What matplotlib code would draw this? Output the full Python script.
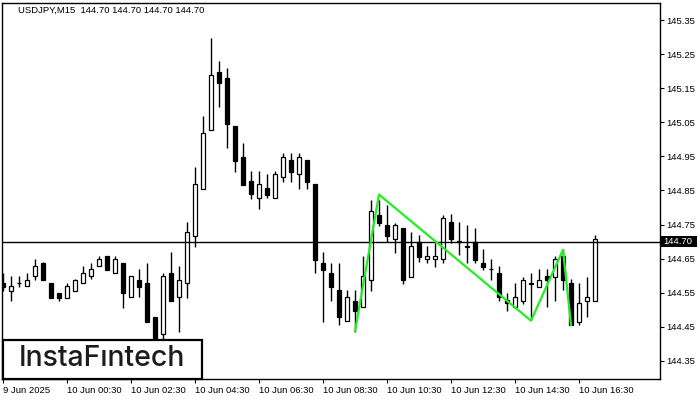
import matplotlib
matplotlib.use("Agg")
import matplotlib.pyplot as plt
import matplotlib.transforms as mtransforms
from matplotlib.patches import Rectangle

# USDJPY M15 candles, 9 Jun 22:30 -> 10 Jun 17:00
opens = [144.580, 144.556, 144.578, 144.569, 144.598, 144.637, 144.579, 144.549, 144.536, 144.556,
         144.578, 144.598, 144.628, 144.658, 144.607, 144.637, 144.537, 144.588, 144.579, 144.479,
         144.428, 144.608, 144.537, 144.578, 144.717, 144.855, 145.027, 145.198, 145.180, 145.039,
         144.948, 144.878, 144.827, 144.856, 144.827, 144.889, 144.939, 144.897, 144.939, 144.869,
         144.638, 144.607, 144.558, 144.466, 144.527, 144.507, 144.588, 144.778, 144.749, 144.707,
         144.739, 144.597, 144.698, 144.648, 144.648, 144.648, 144.758, 144.700, 144.685, 144.698,
         144.637, 144.619, 144.607, 144.529, 144.507, 144.527, 144.577, 144.568, 144.599, 144.597,
         144.658, 144.578, 144.465, 144.527, 144.527]
highs = [144.609, 144.599, 144.599, 144.608, 144.649, 144.640, 144.579, 144.549, 144.579, 144.590,
         144.628, 144.637, 144.659, 144.658, 144.658, 144.637, 144.598, 144.620, 144.637, 144.479,
         144.608, 144.670, 144.629, 144.757, 144.920, 145.068, 145.297, 145.230, 145.209, 145.039,
         144.988, 144.906, 144.906, 144.899, 144.906, 144.960, 144.960, 144.960, 144.939, 144.869,
         144.671, 144.637, 144.637, 144.558, 144.558, 144.658, 144.822, 144.822, 144.807, 144.756,
         144.739, 144.729, 144.720, 144.687, 144.697, 144.778, 144.780, 144.758, 144.749, 144.739,
         144.678, 144.648, 144.629, 144.549, 144.578, 144.597, 144.607, 144.620, 144.620, 144.658,
         144.678, 144.590, 144.580, 144.597, 144.720]
lows = [144.556, 144.527, 144.568, 144.569, 144.586, 144.586, 144.536, 144.527, 144.536, 144.556,
        144.578, 144.590, 144.628, 144.618, 144.607, 144.506, 144.537, 144.537, 144.465, 144.410,
        144.415, 144.527, 144.436, 144.536, 144.685, 144.855, 145.027, 145.096, 144.975, 144.905,
        144.867, 144.825, 144.797, 144.827, 144.827, 144.876, 144.876, 144.855, 144.854, 144.607,
        144.465, 144.527, 144.456, 144.466, 144.436, 144.507, 144.556, 144.747, 144.700, 144.668,
        144.576, 144.597, 144.640, 144.637, 144.627, 144.637, 144.695, 144.660, 144.637, 144.637,
        144.617, 144.586, 144.527, 144.497, 144.507, 144.517, 144.470, 144.568, 144.507, 144.527,
        144.558, 144.456, 144.456, 144.478, 144.527]
closes = [144.568, 144.569, 144.579, 144.587, 144.628, 144.586, 144.536, 144.536, 144.569, 144.587,
          144.608, 144.620, 144.649, 144.618, 144.649, 144.549, 144.598, 144.568, 144.465, 144.417,
          144.599, 144.527, 144.587, 144.727, 144.869, 145.018, 145.188, 145.166, 145.046, 144.937,
          144.867, 144.839, 144.868, 144.838, 144.899, 144.948, 144.905, 144.948, 144.876, 144.646,
          144.617, 144.568, 144.478, 144.537, 144.497, 144.599, 144.789, 144.756, 144.717, 144.748,
          144.586, 144.687, 144.656, 144.657, 144.657, 144.768, 144.707, 144.701, 144.686, 144.646,
          144.625, 144.620, 144.537, 144.519, 144.537, 144.588, 144.578, 144.588, 144.586, 144.648,
          144.586, 144.456, 144.519, 144.537, 144.707]

# pattern drawn over the chart (candle index, price)
pattern_idx = [44, 47, 66, 70, 71]
pattern_price = [144.437, 144.838, 144.468, 144.676, 144.456]

last_price = 144.70
title = "USDJPY,M15  144.70 144.70 144.70 144.70"
price_ticks = [144.35, 144.45, 144.55, 144.65, 144.75, 144.85, 144.95, 145.05, 145.15, 145.25, 145.35]
time_tick_idx = [0, 8, 16, 24, 32, 40, 48, 56, 64, 72]
time_labels = ["9 Jun 2025", "10 Jun 00:30", "10 Jun 02:30", "10 Jun 04:30", "10 Jun 06:30",
               "10 Jun 08:30", "10 Jun 10:30", "10 Jun 12:30", "10 Jun 14:30", "10 Jun 16:30"]

plt.rcParams['font.family'] = ['Liberation Sans', 'DejaVu Sans']
FS = 6.8

fig = plt.figure(figsize=(7, 4), dpi=100)
ax = fig.add_axes([2 / 700, 21 / 400, 658 / 700, 376 / 400])

idx = list(range(len(opens)))
ax.vlines(idx, lows, highs, color='black', linewidth=1, zorder=2)
bottoms = [min(o, c) for o, c in zip(opens, closes)]
heights = [max(abs(c - o), 0.0005) for o, c in zip(opens, closes)]
faces = ['black' if c < o else 'white' for o, c in zip(opens, closes)]
ax.bar(idx, heights, bottom=bottoms, width=0.62, color=faces, edgecolor='black',
       linewidth=0.9, zorder=3)

ax.axhline(last_price, color='black', linewidth=1, zorder=4)
ax.plot(pattern_idx, pattern_price, color='#22ee22', linewidth=1.6, zorder=5)

ax.set_xlim(-0.125, 82.125)
ax.set_ylim(144.297, 145.400)

ax.yaxis.tick_right()
ax.set_yticks(price_ticks)
ax.set_yticklabels([f"{p:.2f}" for p in price_ticks], fontsize=FS)
ax.set_xticks(time_tick_idx)
ax.set_xticklabels(time_labels, fontsize=FS, ha='left')
ax.tick_params(axis='both', direction='out', length=3, width=0.8, pad=1.5, colors='black')
ax.tick_params(axis='x', pad=2)
for s in ax.spines.values():
    s.set_linewidth(1)

# current price tag on the right axis
trans = mtransforms.blended_transform_factory(ax.transAxes, ax.transData)
ax.add_patch(Rectangle((1.0015, last_price - 0.0165), 0.055, 0.033, transform=trans,
                       facecolor='black', edgecolor='none', clip_on=False, zorder=6))
ax.text(1.0045, last_price, f"{last_price:.2f}", transform=trans, color='white',
        fontsize=FS, va='center', ha='left', zorder=7)

fig.text(18 / 700, 1 - 10.7 / 400, title, fontsize=FS, va='center', ha='left')

# logo box
fig.add_artist(Rectangle((2.5 / 700, 21.5 / 400), 199 / 700, 38.5 / 400, transform=fig.transFigure,
                         facecolor='white', edgecolor='black', linewidth=1.6, zorder=10))
fig.text(102 / 700, 1 - 359 / 400, "InstaF\u0131ntech", fontsize=20.5, family=['Inter', 'DejaVu Sans'],
         fontweight='medium', color='#1c1c1c', ha='center', va='center', zorder=11)

fig.savefig("out.png", dpi=100)
